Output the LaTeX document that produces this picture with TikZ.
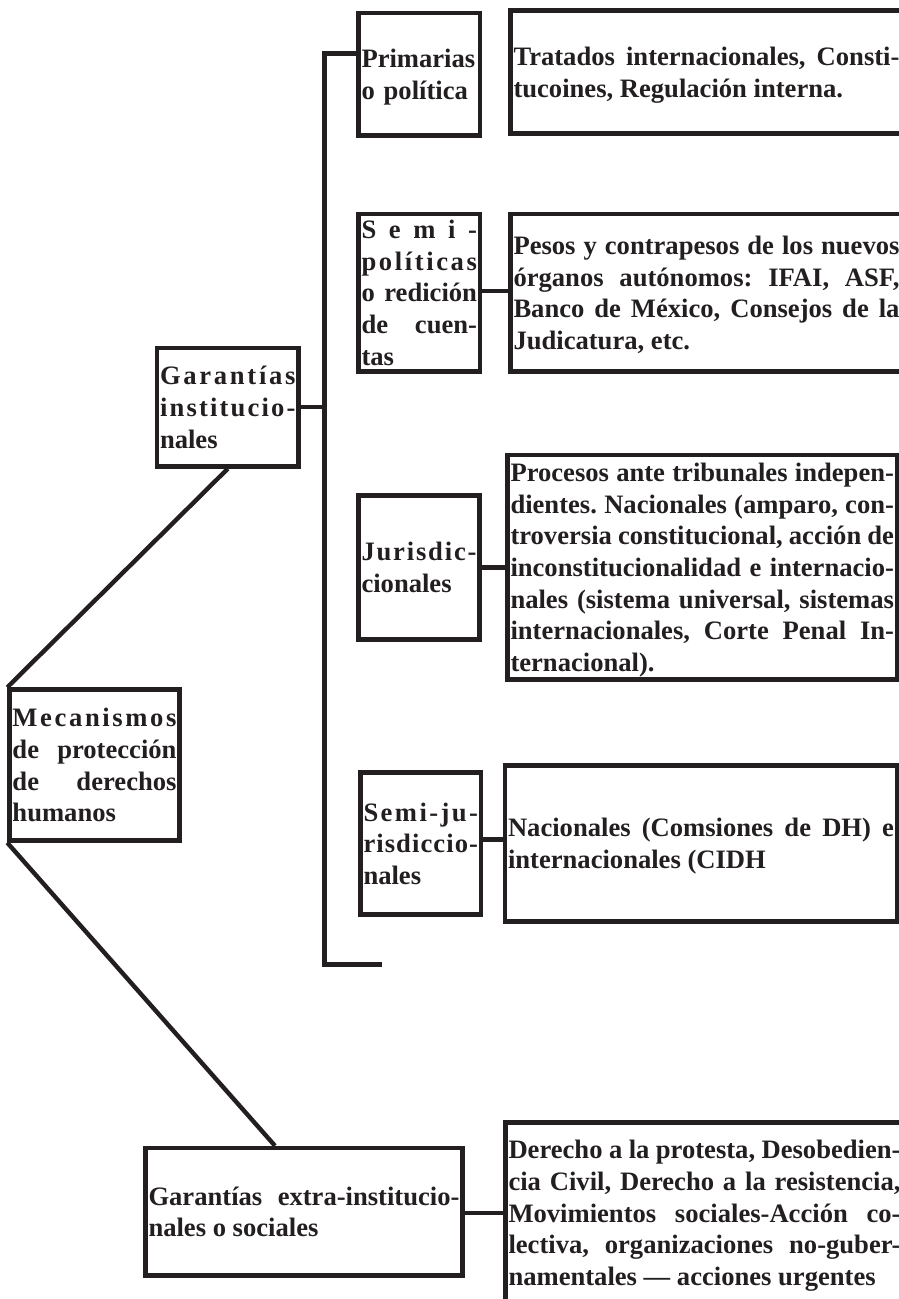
\documentclass[tikz,border=0pt]{standalone}
\usepackage{fontspec}
\setmainfont{Liberation Serif}

\definecolor{ink}{RGB}{35,31,32}
\setlength{\parindent}{0pt}
\frenchspacing
\tolerance=10000
\hyphenpenalty=10000
\exhyphenpenalty=10000

% spread the letters of one word over the whole line
\newcommand{\spreadword}[1]{\spreadletters#1\relax}
\def\spreadletters#1#2{#1\ifx\relax#2\else\nobreak\hfill\expandafter\spreadletters\expandafter#2\fi}
% end the text without the depth of its last line
\newcommand{\dropdepth}{\par\kern-\prevdepth}

\begin{document}
\begin{tikzpicture}[x=1pt, y=-1pt,
    box/.style={draw=ink, line width=4.4pt, text=ink, inner xsep=3pt, inner ysep=0pt,
        align=justify, font=\fontsize{26.6}{31.65}\selectfont\bfseries,
        execute at end node=\dropdepth},
    link/.style={draw=ink, line width=4.4pt}]

            \useasboundingbox (0,0) rectangle (899,1299);
            \clip (0,0) rectangle (899,1299);

            % Left column
            \node[box, text width=164pt, minimum height=151pt] (mec) at (94.5,765)
                {\spreadword{Mecanismos}\linebreak de protección\linebreak de derechos\linebreak humanos};
            \node[box, text width=135.5pt, minimum height=118.5pt] (ginst) at (227.75,407.25)
                {\spreadword{Garantías}\linebreak \spreadword{institucio-}\linebreak nales};
            \node[box, text width=311pt, minimum height=127.5pt] (gext) at (304,1211.75)
                {Garantías extra-institucio-\linebreak nales o sociales};

            % Middle column
            \node[box, align=left, text width=115.5pt, minimum height=122.5pt] (prim) at (419.25,74.25)
                {Primarias\\o política};
            \node[box, text width=115.5pt, minimum height=157.5pt] (semipol) at (419.25,292.75)
                {\spreadword{Semi-}\linebreak \spreadword{políticas}\linebreak o redición\linebreak de cuen-\linebreak tas};
            \node[box, text width=115pt, minimum height=144pt] (juris) at (419,567.5)
                {\spreadword{Jurisdic-}\linebreak cionales};
            \node[box, text width=114.5pt, minimum height=142pt] (semijur) at (420.75,843.5)
                {\spreadword{Semi-ju-}\linebreak \spreadword{risdiccio-}\linebreak nales};

            % Right column
            \node[box, text width=386pt, minimum height=123pt] (trat) at (706.5,72)
                {Tratados internacionales, Consti-\linebreak tucoines, Regulación interna.};
            \node[box, text width=386pt, minimum height=157.5pt] (pesos) at (706.5,292.75)
                {Pesos y contrapesos de los nuevos\linebreak órganos autónomos: IFAI, ASF,\linebreak Banco de México, Consejos de la\linebreak Judicatura, etc.};
            \node[box, text width=383.5pt, minimum height=224.5pt] (proc) at (702.25,567.25)
                {Procesos ante tribunales indepen-\linebreak dientes. Nacionales (amparo, con-\linebreak troversia constitucional, acción de\linebreak inconstitucionalidad e internacio-\linebreak nales (sistema universal, sistemas\linebreak internacionales, Corte Penal In-\linebreak ternacional).};
            \node[box, text width=386pt, minimum height=156pt] (nac) at (701,843.5)
                {Nacionales (Comsiones de DH) e\linebreak internacionales (CIDH};
            \node[box, text width=392pt, minimum height=181pt] (der) at (704.5,1213)
                {Derecho a la protesta, Desobedien-\linebreak cia Civil, Derecho a la resistencia,\linebreak Movimientos sociales-Acción co-\linebreak lectiva, organizaciones no-guber-\linebreak namentales — acciones urgentes};

            % Bracket of the institutional guarantees
            \coordinate (btop) at (324.5,53.5);
            \coordinate (bbot) at (324.5,964.5);
            \coordinate (bend) at (382,964.5);
            \draw[link] (prim.west |- btop) -- (btop) -- (bbot) -- (bend);
            \draw[link] (ginst.east) -- (ginst.east -| btop);

            % Links to the descriptions
            \draw[link] ([yshift=2pt]semipol.east) -- ([yshift=2pt]semipol.east -| pesos.west);
            \draw[link] (juris.east) -- (juris.east -| proc.west);
            \draw[link] ([yshift=4pt]semijur.east) -- ([yshift=4pt]semijur.east -| nac.west);
            \draw[link] (gext.east |- der.west) -- (der.west);

            % Diagonals from the root
            \draw[link] (ginst.south) -- (mec.north west);
            \draw[link] (mec.south west) -- ([xshift=-29pt]gext.north);

\end{tikzpicture}
\end{document}
